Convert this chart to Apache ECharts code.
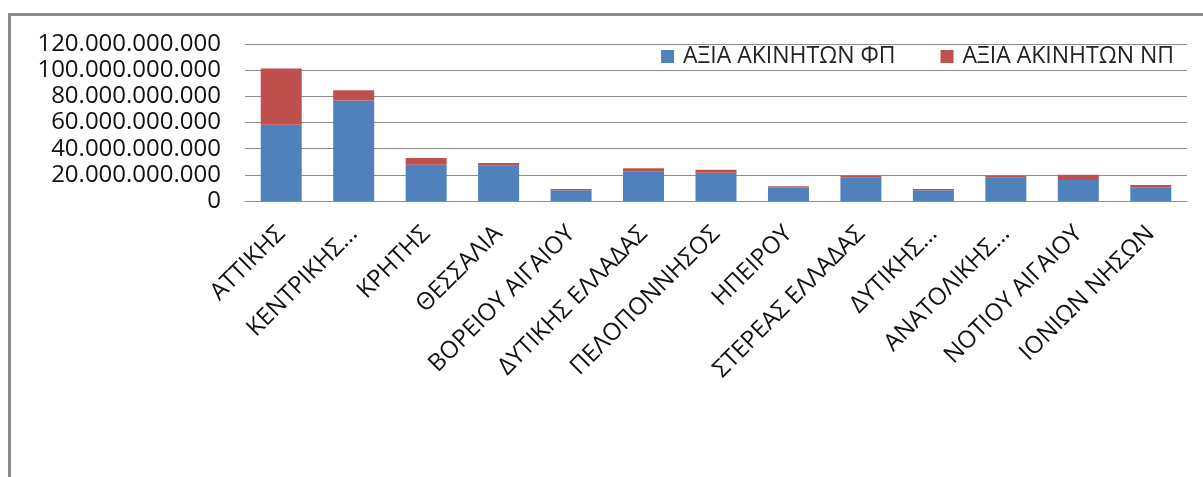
<!DOCTYPE html>
<html>
<head>
<meta charset="utf-8">
<script src="https://cdn.jsdelivr.net/npm/echarts@6/dist/echarts.min.js"></script>
<style>
html,body{margin:0;padding:0;background:#fff;}
#frame{position:absolute;left:8px;top:13px;width:1200px;height:470px;border-left:3px solid #8c8c8c;border-top:3px solid #8c8c8c;}
#chart{position:absolute;left:0;top:0;width:1203px;height:477px;}
</style>
</head>
<body>
<div id="frame"></div>
<div id="chart"></div>
<script>
var categories = ["ΑΤΤΙΚΗΣ","ΚΕΝΤΡΙΚΗΣ…","ΚΡΗΤΗΣ","ΘΕΣΣΑΛΙΑ","ΒΟΡΕΙΟΥ ΑΙΓΑΙΟΥ","ΔΥΤΙΚΗΣ ΕΛΛΑΔΑΣ","ΠΕΛΟΠΟΝΝΗΣΟΣ","ΗΠΕΙΡΟΥ","ΣΤΕΡΕΑΣ ΕΛΛΑΔΑΣ","ΔΥΤΙΚΗΣ…","ΑΝΑΤΟΛΙΚΗΣ…","ΝΟΤΙΟΥ ΑΙΓΑΙΟΥ","ΙΟΝΙΩΝ ΝΗΣΩΝ"];
var seriesNames = ["ΑΞΙΑ ΑΚΙΝΗΤΩΝ ΦΠ","ΑΞΙΑ ΑΚΙΝΗΤΩΝ ΝΠ"];
var valuesFP = [58200000000,76900000000,27700000000,27000000000,8200000000,22700000000,21600000000,10400000000,17800000000,8200000000,17800000000,16000000000,10200000000];
var valuesNP = [43100000000,7800000000,5100000000,2000000000,1000000000,2300000000,2300000000,800000000,1500000000,1000000000,1500000000,4100000000,2000000000];
var yMin = 0, yMax = 120000000000, yInterval = 20000000000;

function fmt(v){
  var s = String(Math.round(v));
  return s.replace(/\B(?=(\d{3})+(?!\d))/g, ".");
}
var chart = echarts.init(document.getElementById('chart'));
chart.setOption({
  animation:false,
  backgroundColor:'transparent',
  textStyle:{fontFamily:'Open Sans'},
  legend:{
    data:seriesNames,
    right:24, top:40,
    itemWidth:13, itemHeight:13, itemGap:45,
    icon:'rect',
    textStyle:{fontSize:23,color:'#222',fontFamily:'Open Sans',padding:[0,0,0,4]}
  },
  grid:{left:245,right:16,top:44,height:157,containLabel:false},
  xAxis:{
    type:'category',
    data:categories,
    axisLine:{show:true,lineStyle:{color:'#8c8c8c',width:1}},
    axisTick:{show:false},
    axisLabel:{rotate:45,interval:0,fontSize:24,color:'#111',margin:29,fontFamily:'Open Sans'}
  },
  yAxis:{
    type:'value',
    min:yMin,max:yMax,interval:yInterval,
    axisLine:{show:false},
    axisTick:{show:false},
    splitLine:{lineStyle:{color:'#8c8c8c',width:1}},
    axisLabel:{formatter:fmt,fontSize:24,color:'#111',margin:24,fontFamily:'Open Sans'}
  },
  series:[
    {name:seriesNames[0],type:'bar',stack:'a',data:valuesFP,barWidth:41,itemStyle:{color:'#4F81BD'}},
    {name:seriesNames[1],type:'bar',stack:'a',data:valuesNP,barWidth:41,itemStyle:{color:'#C0504D'}}
  ]
});
</script>
</body>
</html>
